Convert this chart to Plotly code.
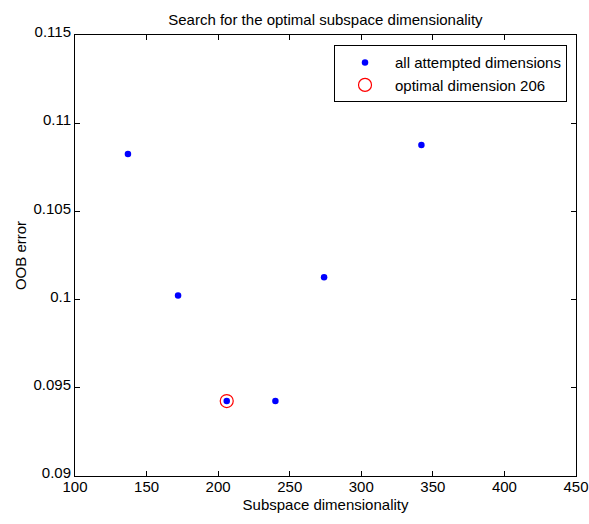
import plotly.graph_objects as go

dims = [137, 172, 206, 240, 274, 342]
oob_err = [0.10825, 0.10023, 0.09425, 0.09425, 0.10126, 0.10876]
opt_dim = [206]
opt_err = [0.09425]
x_ticks = [100, 150, 200, 250, 300, 350, 400, 450]
y_ticks = [0.09, 0.095, 0.1, 0.105, 0.11, 0.115]
y_tick_labels = ["0.09", "0.095", "0.1", "0.105", "0.11", "0.115"]

font = dict(family="Liberation Sans, Arial, sans-serif", size=15, color="black")

fig = go.Figure()
fig.add_trace(go.Scatter(
    x=dims, y=oob_err, mode="markers", name="all attempted dimensions",
    marker=dict(color="blue", size=6.5, line=dict(width=0)),
))
fig.add_trace(go.Scatter(
    x=opt_dim, y=opt_err, mode="markers", name="optimal dimension 206",
    marker=dict(symbol="circle-open", color="red", size=13, line=dict(width=1.2, color="red")),
))

axis_common = dict(
    showline=True, linecolor="black", linewidth=1, mirror="ticks",
    ticks="inside", ticklen=5, tickcolor="black", tickwidth=1,
    showgrid=False, zeroline=False, tickfont=font, automargin=False,
)
fig.update_xaxes(range=[100, 450], tickvals=x_ticks, ticklabelstandoff=-3, **axis_common,
                 title=dict(text="Subspace dimensionality", font=font, standoff=5))
fig.update_yaxes(range=[0.09, 0.115], tickvals=y_ticks, ticktext=y_tick_labels,
                 ticklabelshift=-3, **axis_common,
                 title=dict(text="OOB error", font=font, standoff=3))

fig.update_layout(
    width=589, height=524,
    margin=dict(l=75, r=13, t=35, b=48),
    paper_bgcolor="white", plot_bgcolor="white",
    font=font,
    title=dict(text="Search for the optimal subspace dimensionality", x=0.5525, xanchor="center",
               y=0.962, yanchor="middle", font=font),
    legend=dict(x=0.517, y=0.977, xanchor="left", yanchor="top",
                bordercolor="black", borderwidth=1, bgcolor="white",
                font=font, itemsizing="trace", itemwidth=50, tracegroupgap=0),
    showlegend=True,
)

fig.write_html("out.html", config={"displayModeBar": False},
               post_script="document.body.style.margin='0';")
